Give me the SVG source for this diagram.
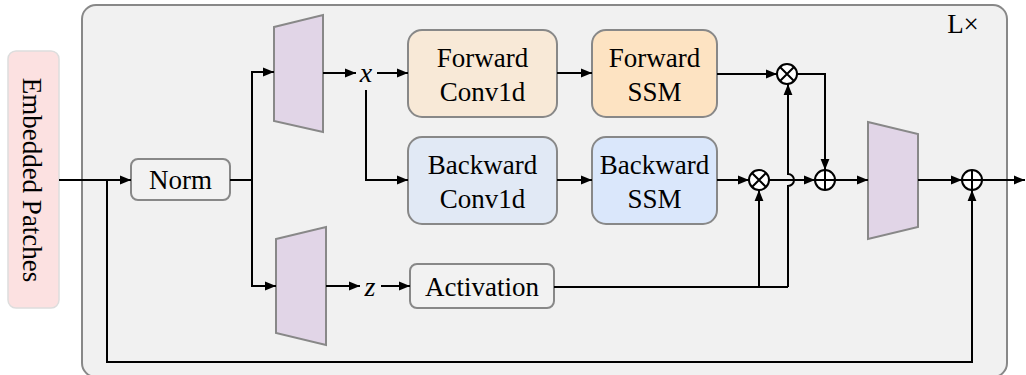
<svg xmlns="http://www.w3.org/2000/svg" width="1026" height="375" viewBox="0 0 1026 375">
<style>
text{font-family:"Liberation Serif","Times New Roman",serif;font-size:27px;fill:#000;text-anchor:middle}
.c{fill:none;stroke:#000;stroke-width:2}
.box{stroke:#888;stroke-width:2}
.trap{fill:#e1d5e7;stroke:#888;stroke-width:2}
.op{fill:#fff;stroke:#000;stroke-width:2}
</style>
<defs>
<marker id="ah" viewBox="0 0 10 10" refX="10" refY="5" markerWidth="11" markerHeight="11" markerUnits="userSpaceOnUse" orient="auto">
<path d="M0,1 L10,5 L0,9 Z" fill="#000"/>
</marker>
</defs>
<g id="container">
<rect x="82" y="5" width="925" height="372" rx="14" fill="#f1f1f1" stroke="#888" stroke-width="2"/>
<text x="963" y="33" style="font-size:27px">L×</text>
</g>
<g id="embedded-patches">
<rect x="8" y="51" width="51" height="257" rx="8" fill="#fce1e1" stroke="#ddd" stroke-width="1.5"/>
<text transform="translate(23,180) rotate(90)">Embedded Patches</text>
</g>
<g id="norm">
<rect class="box" x="131" y="159" width="99" height="41" rx="7" fill="#f2f2f2"/>
<text x="180.5" y="189">Norm</text>
</g>
<g id="proj-x">
<polygon class="trap" points="274,27 323,15 323,132 274,121"/>
</g>
<g id="proj-z">
<polygon class="trap" points="276,239 326,227 326,345 276,333"/>
</g>
<g id="label-x"><text x="366" y="82" style="font-style:italic;font-size:28px">x</text></g>
<g id="label-z"><text x="370" y="296" style="font-style:italic;font-size:28px">z</text></g>
<g id="fwd-conv">
<rect class="box" x="408" y="30" width="149" height="87" rx="14" fill="#f8e9d7"/>
<text x="482.5" y="67">Forward</text>
<text x="482.5" y="101">Conv1d</text>
</g>
<g id="fwd-ssm">
<rect class="box" x="592" y="30" width="125" height="87" rx="14" fill="#fde3c2"/>
<text x="654.5" y="67">Forward</text>
<text x="654.5" y="101">SSM</text>
</g>
<g id="bwd-conv">
<rect class="box" x="408" y="137" width="149" height="87" rx="14" fill="#e1e9f5"/>
<text x="482.5" y="174">Backward</text>
<text x="482.5" y="208">Conv1d</text>
</g>
<g id="bwd-ssm">
<rect class="box" x="592" y="137" width="125" height="87" rx="14" fill="#dae7fb"/>
<text x="654.5" y="174">Backward</text>
<text x="654.5" y="208">SSM</text>
</g>
<g id="activation">
<rect class="box" x="410" y="264" width="144" height="44" rx="7" fill="#f2f2f2"/>
<text x="482" y="296">Activation</text>
</g>
<g id="mul-top">
<circle class="op" cx="787" cy="74" r="10"/>
<path class="c" d="M780,67 L794,81 M794,67 L780,81"/>
</g>
<g id="mul-bottom">
<circle class="op" cx="759" cy="180" r="10"/>
<path class="c" d="M752,173 L766,187 M766,173 L752,187"/>
</g>
<g id="add-mid">
<circle class="op" cx="825" cy="180" r="10"/>
<path class="c" d="M815,180 H835 M825,170 V190"/>
</g>
<g id="proj-out">
<polygon class="trap" points="868,122 918,134 918,227 868,239"/>
</g>
<g id="add-res">
<circle class="op" cx="972" cy="180" r="10"/>
<path class="c" d="M962,180 H982 M972,170 V190"/>
</g>
<g id="connectors" class="c">
<path d="M59,180 H131" marker-end="url(#ah)"/>
<path d="M107,180 V362 H972 V190" marker-end="url(#ah)"/>
<path d="M230,180 H252"/>
<path d="M252,180 V72 H274" marker-end="url(#ah)"/>
<path d="M252,180 V286 H276" marker-end="url(#ah)"/>
<path d="M323,73 H356" marker-end="url(#ah)"/>
<path d="M377,73 H408" marker-end="url(#ah)"/>
<path d="M366,90 V180 H408" marker-end="url(#ah)"/>
<path d="M557,73 H592" marker-end="url(#ah)"/>
<path d="M557,180 H592" marker-end="url(#ah)"/>
<path d="M717,74 H777" marker-end="url(#ah)"/>
<path d="M717,180 H749" marker-end="url(#ah)"/>
<path d="M326,286 H360" marker-end="url(#ah)"/>
<path d="M381,286 H410" marker-end="url(#ah)"/>
<path d="M554,287 H788"/>
<path d="M759,287 V190" marker-end="url(#ah)"/>
<path d="M788,287 V186 A6,6 0 0,0 788,174 V84" marker-end="url(#ah)"/>
<path d="M769,180 H815" marker-end="url(#ah)"/>
<path d="M797,74 H825 V170" marker-end="url(#ah)"/>
<path d="M835,180 H868" marker-end="url(#ah)"/>
<path d="M918,180 H962" marker-end="url(#ah)"/>
<path d="M982,180 H1025" marker-end="url(#ah)"/>
</g>
</svg>
